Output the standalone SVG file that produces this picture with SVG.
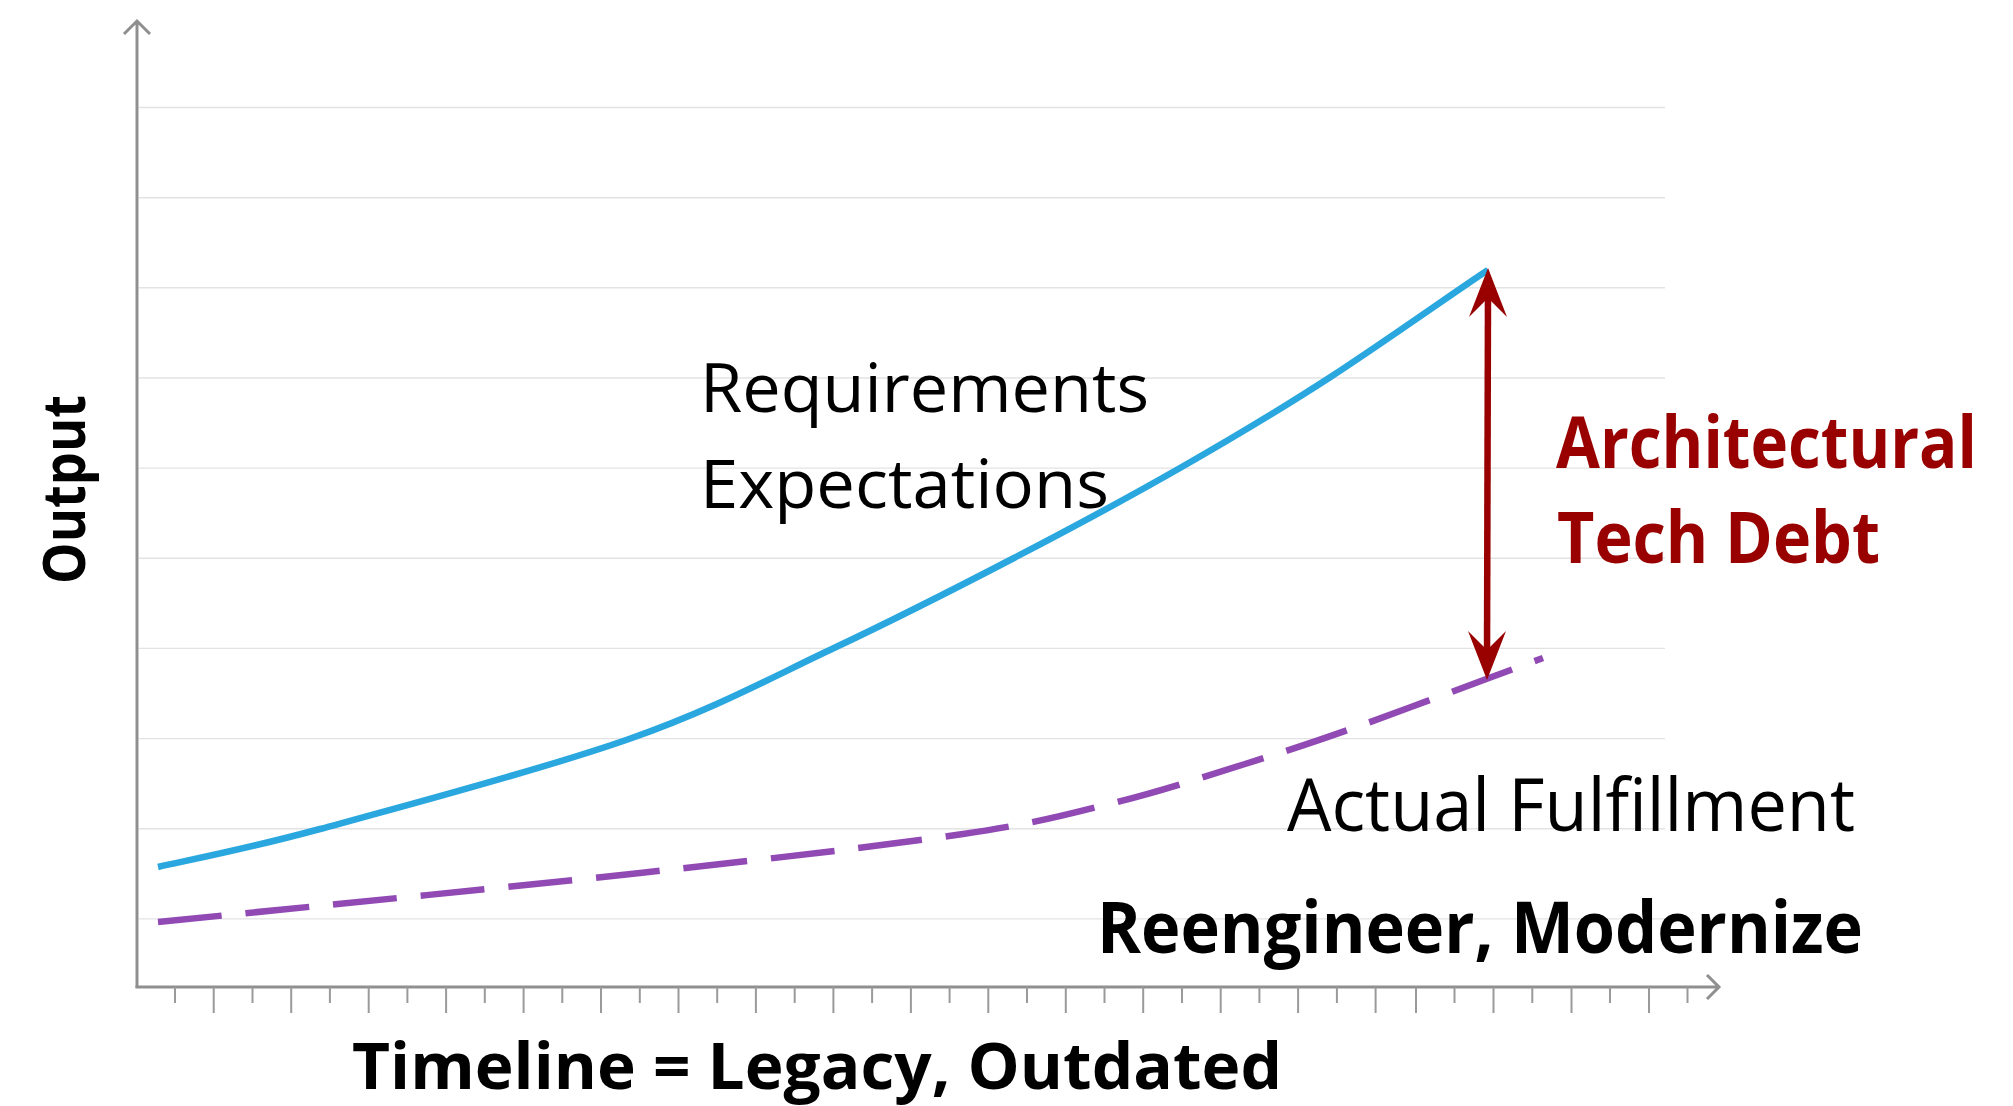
<svg xmlns="http://www.w3.org/2000/svg" width="2013" height="1106" viewBox="0 0 2013 1106">
  <style>
    .grid { stroke: #e3e3e3; stroke-width: 1.4; }
    .axis { stroke: #8f8f8f; stroke-width: 3; fill: none; }
    .tick { stroke: #9a9a9a; stroke-width: 2; }
    .lbl { font-family: "Open Sans", "Liberation Sans", sans-serif; fill: #000; }
    .b { font-weight: bold; }
    .red { fill: #990000; }
    .ahead { fill: #990000; }
  </style>
  <defs>
    <path id="ahead" class="ahead" d="M0 0 L19 49 L0 30 L-19 49 Z"/>
  </defs>
  <rect width="2013" height="1106" fill="#fff"/>
  <g id="gridlines">
    <line class="grid" x1="139" y1="107.5" x2="1665" y2="107.5"/>
    <line class="grid" x1="139" y1="197.7" x2="1665" y2="197.7"/>
    <line class="grid" x1="139" y1="287.8" x2="1665" y2="287.8"/>
    <line class="grid" x1="139" y1="378" x2="1665" y2="378"/>
    <line class="grid" x1="139" y1="468.1" x2="1665" y2="468.1"/>
    <line class="grid" x1="139" y1="558.3" x2="1665" y2="558.3"/>
    <line class="grid" x1="139" y1="648.4" x2="1665" y2="648.4"/>
    <line class="grid" x1="139" y1="738.6" x2="1665" y2="738.6"/>
    <line class="grid" x1="139" y1="828.7" x2="1665" y2="828.7"/>
    <line class="grid" x1="139" y1="918.9" x2="1665" y2="918.9"/>
  </g>
  <g id="axes">
    <path class="axis" d="M137 988 L137 21 M124 34 L137 21 L150 34"/>
    <path class="axis" d="M135.5 987 L1719 987 M1707 975 L1719 987 L1707 999"/>
    <g id="ticks">
      <line class="tick" x1="175" y1="987" x2="175" y2="1003"/>
      <line class="tick" x1="213.7" y1="987" x2="213.7" y2="1013"/>
      <line class="tick" x1="252.5" y1="987" x2="252.5" y2="1003"/>
      <line class="tick" x1="291.2" y1="987" x2="291.2" y2="1013"/>
      <line class="tick" x1="329.9" y1="987" x2="329.9" y2="1003"/>
      <line class="tick" x1="368.7" y1="987" x2="368.7" y2="1013"/>
      <line class="tick" x1="407.4" y1="987" x2="407.4" y2="1003"/>
      <line class="tick" x1="446.1" y1="987" x2="446.1" y2="1013"/>
      <line class="tick" x1="484.8" y1="987" x2="484.8" y2="1003"/>
      <line class="tick" x1="523.6" y1="987" x2="523.6" y2="1013"/>
      <line class="tick" x1="562.3" y1="987" x2="562.3" y2="1003"/>
      <line class="tick" x1="601" y1="987" x2="601" y2="1013"/>
      <line class="tick" x1="639.8" y1="987" x2="639.8" y2="1003"/>
      <line class="tick" x1="678.5" y1="987" x2="678.5" y2="1013"/>
      <line class="tick" x1="717.2" y1="987" x2="717.2" y2="1003"/>
      <line class="tick" x1="755.9" y1="987" x2="755.9" y2="1013"/>
      <line class="tick" x1="794.7" y1="987" x2="794.7" y2="1003"/>
      <line class="tick" x1="833.4" y1="987" x2="833.4" y2="1013"/>
      <line class="tick" x1="872.1" y1="987" x2="872.1" y2="1003"/>
      <line class="tick" x1="910.9" y1="987" x2="910.9" y2="1013"/>
      <line class="tick" x1="949.6" y1="987" x2="949.6" y2="1003"/>
      <line class="tick" x1="988.3" y1="987" x2="988.3" y2="1013"/>
      <line class="tick" x1="1027" y1="987" x2="1027" y2="1003"/>
      <line class="tick" x1="1065.8" y1="987" x2="1065.8" y2="1013"/>
      <line class="tick" x1="1104.5" y1="987" x2="1104.5" y2="1003"/>
      <line class="tick" x1="1143.2" y1="987" x2="1143.2" y2="1013"/>
      <line class="tick" x1="1182" y1="987" x2="1182" y2="1003"/>
      <line class="tick" x1="1220.7" y1="987" x2="1220.7" y2="1013"/>
      <line class="tick" x1="1259.4" y1="987" x2="1259.4" y2="1003"/>
      <line class="tick" x1="1298.1" y1="987" x2="1298.1" y2="1013"/>
      <line class="tick" x1="1336.9" y1="987" x2="1336.9" y2="1003"/>
      <line class="tick" x1="1375.6" y1="987" x2="1375.6" y2="1013"/>
      <line class="tick" x1="1416" y1="987" x2="1416" y2="1013"/>
      <line class="tick" x1="1454.5" y1="987" x2="1454.5" y2="1003"/>
      <line class="tick" x1="1493.5" y1="987" x2="1493.5" y2="1013"/>
      <line class="tick" x1="1532.3" y1="987" x2="1532.3" y2="1003"/>
      <line class="tick" x1="1571.5" y1="987" x2="1571.5" y2="1013"/>
      <line class="tick" x1="1610" y1="987" x2="1610" y2="1003"/>
      <line class="tick" x1="1649" y1="987" x2="1649" y2="1013"/>
      <line class="tick" x1="1687.5" y1="987" x2="1687.5" y2="1003"/>
    </g>
  </g>
  <g id="connectors">
    <path id="requirements-curve" fill="none" stroke="#29A7DE" stroke-width="6.5" d="M158 867 C185 860.7 241.5 850.3 320 829 C398.5 807.7 543.3 769.2 629 739 C714.7 708.8 769.8 678.2 834 648 C898.2 617.8 956.3 588 1014 558 C1071.7 528 1127.5 498 1180 468 C1232.5 438 1277.7 411.2 1329 378 C1380.3 344.8 1461.5 287.2 1488 270"/>
    <path id="fulfillment-curve" fill="none" stroke="#9149B4" stroke-width="6.5" stroke-dasharray="64 24" d="M158 922 C238.3 913.8 505.8 887.7 640 873 C774.2 858.3 883.5 845.8 963 834 C1042.5 822.2 1070 813.7 1117 802 C1164 790.3 1206.5 776 1245 764 C1283.5 752 1307.3 744.3 1348 730 C1388.7 715.7 1456.5 690 1489 678 C1521.5 666 1534 661.3 1543 658"/>
    <g id="debt-arrow">
      <line x1="1488" y1="292" x2="1487" y2="656" stroke="#990000" stroke-width="6.5"/>
      <use href="#ahead" transform="translate(1488 268)"/>
      <use href="#ahead" transform="translate(1487 680) rotate(180)"/>
    </g>
  </g>
  <g id="label-requirements">
    <text class="lbl" x="700" y="411.7" font-size="67.6" textLength="449" lengthAdjust="spacingAndGlyphs">Requirements</text>
    <text class="lbl" x="700" y="508.3" font-size="67.6" textLength="409" lengthAdjust="spacingAndGlyphs">Expectations</text>
  </g>
  <g id="label-debt">
    <text class="lbl b red" x="1556" y="468.3" font-size="72" textLength="421" lengthAdjust="spacingAndGlyphs">Architectural</text>
    <text class="lbl b red" x="1557" y="563.3" font-size="72" textLength="323" lengthAdjust="spacingAndGlyphs">Tech Debt</text>
  </g>
  <g id="label-actual">
    <text class="lbl" x="1287" y="830.7" font-size="73" textLength="568" lengthAdjust="spacingAndGlyphs">Actual Fulfillment</text>
  </g>
  <g id="label-reengineer">
    <text class="lbl b" x="1097" y="953.3" font-size="71" textLength="766" lengthAdjust="spacingAndGlyphs">Reengineer, Modernize</text>
  </g>
  <g id="label-timeline">
    <text class="lbl b" x="352" y="1088.5" font-size="64" textLength="930" lengthAdjust="spacingAndGlyphs">Timeline = Legacy, Outdated</text>
  </g>
  <g id="label-output">
    <text class="lbl b" transform="translate(85 584) rotate(-90)" x="0" y="0" font-size="58.4" textLength="189" lengthAdjust="spacingAndGlyphs">Output</text>
  </g>
</svg>
